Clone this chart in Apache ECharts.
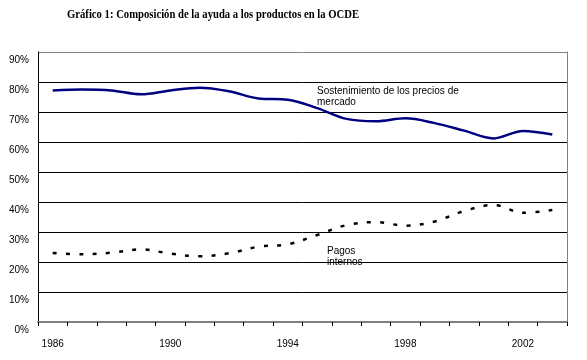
<!DOCTYPE html>
<html><head><meta charset="utf-8">
<script src="https://cdn.jsdelivr.net/npm/echarts@6/dist/echarts.min.js"></script>
<style>html,body{margin:0;padding:0;background:#fff}#c{width:587px;height:360px}</style>
</head><body><div id="c"></div>
<script>
const years = ['1986','1987','1988','1989','1990','1991','1992','1993','1994','1995','1996','1997','1998','1999','2000','2001','2002','2003'];
const sostenimiento = [77.2,77.5,77.2,75.9,77.2,78.1,76.9,74.5,74.1,71.3,67.7,66.9,67.9,66.3,63.8,61.2,63.7,62.5];
const pagos = [23.0,22.6,23.1,24.2,22.8,21.9,22.9,25.1,25.9,29.0,32.3,33.3,32.1,33.5,37.0,39.0,36.4,37.3];
const yTicks = [0,10,20,30,40,50,60,70,80,90];
const titleText = 'Gráfico 1: Composición de la ayuda a los productos en la OCDE';

const chart = echarts.init(document.getElementById('c'), null, {renderer:'canvas'});
const splitColors = yTicks.map((v,i)=> (i===0||i===yTicks.length-1)?'#808080':'#000000');
chart.setOption({
  animation:false,
  backgroundColor:'#fff',
  grid:{left:38,right:20,top:52,bottom:38,containLabel:false},
  graphic:[{
    type:'text', x:67, y:8, scaleX:0.82,
    style:{text:titleText, font:'bold 13px "Liberation Serif", "Times New Roman", serif', fill:'#000'}
  },{
    type:'text', left:317, top:86,
    style:{text:'Sostenimiento de los precios de\nmercado', font:'10px "Liberation Sans", Arial, sans-serif', fill:'#000', lineHeight:11}
  },{
    type:'text', left:327, top:246,
    style:{text:'Pagos\ninternos', font:'10px "Liberation Sans", Arial, sans-serif', fill:'#000', lineHeight:11}
  }],
  xAxis:{
    type:'category', data:years, boundaryGap:true,
    axisLine:{lineStyle:{color:'#808080',width:2}},
    axisTick:{show:true,length:4,interval:0,lineStyle:{color:'#000'}},
    axisLabel:{interval:3,margin:17,color:'#000',fontSize:10,fontFamily:'"Liberation Sans", Arial, sans-serif'},
    splitLine:{show:false}
  },
  yAxis:[{
    type:'value', min:0, max:90, interval:10,
    axisLine:{show:true,lineStyle:{color:'#000',width:1}},
    axisTick:{show:false},
    axisLabel:{formatter:'{value}%',color:'#000',fontSize:10,margin:9,verticalAlign:'top',padding:[3,0,0,0],
      fontFamily:'"Liberation Sans", Arial, sans-serif'},
    splitLine:{show:true,lineStyle:{color:splitColors,width:1}}
  },{
    type:'value', min:0, max:90, interval:10, position:'right',
    axisLine:{show:true,lineStyle:{color:'#808080',width:1}},
    axisTick:{show:false}, axisLabel:{show:false}, splitLine:{show:false}
  }],
  series:[{
    type:'line', data:sostenimiento, smooth:0.35, symbol:'none',
    lineStyle:{color:'#000080',width:2.5}
  },{
    type:'line', data:pagos, smooth:0.35, symbol:'none',
    lineStyle:{color:'#000',width:2.5,type:[4,9.3]}
  }]
});
</script></body></html>
